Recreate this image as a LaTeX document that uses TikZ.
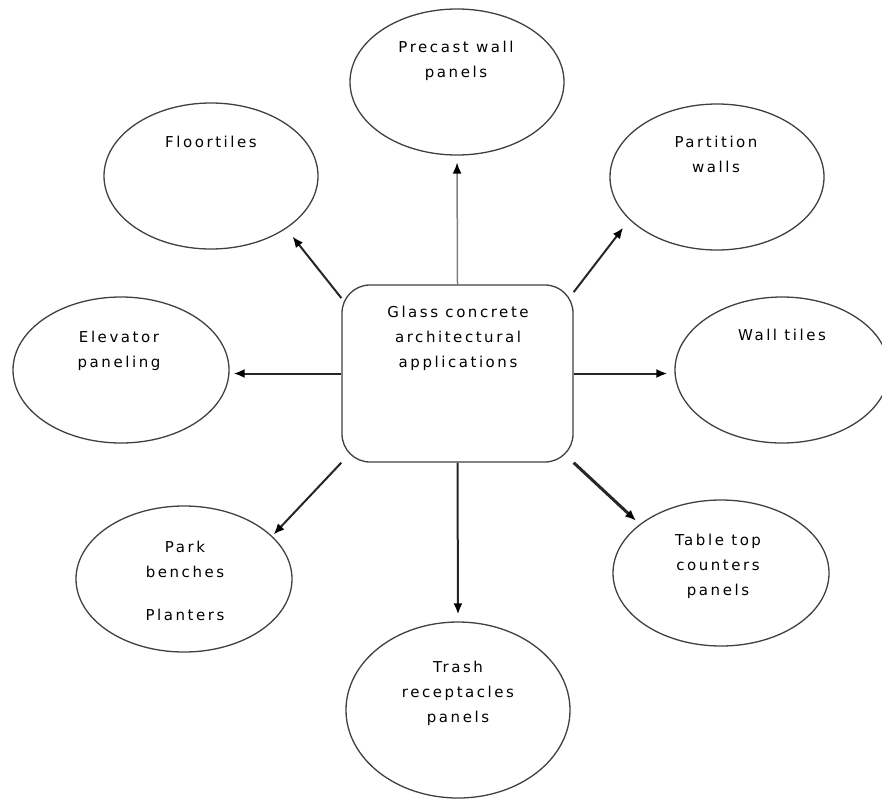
\documentclass[tikz,border=0pt]{standalone}
\usepackage{fontspec}
\setmainfont[LetterSpace=17]{DejaVu Sans}
\usetikzlibrary{shapes.geometric,arrows.meta,backgrounds}
\begin{document}
\begin{tikzpicture}[x=1pt,y=-1pt,
  bub/.style={ellipse,draw=black!75,line width=1.3pt,fill=white,inner sep=0pt,minimum width=214pt,minimum height=146pt},
  lbl/.style={align=center,font=\fontsize{15}{25}\selectfont,inner sep=0pt},
  con/.style={draw=black!85,line width=2pt,-{Latex[length=11pt,width=9pt,color=black]}}]
\useasboundingbox (0,0) rectangle (882,801);
% central box
\node[draw=black!75,line width=1.3pt,fill=white,rounded corners=28pt,minimum width=231pt,minimum height=177pt,inner sep=0pt] (box) at (457.5,373.5) {};
\node[lbl] (tbox) at (458,338) {Glass concrete\\architectural\\applications};
% bubbles
\node[bub] (pre) at (457,82) {};
\node[lbl] (tpre) at (456,61) {Precast wall\\panels};
\node[bub] (floor) at (211,176) {};
\node[lbl] (tfloor) at (211,142) {Floortiles};
\node[bub] (part) at (717,177) {};
\node[lbl] (tpart) at (716,154.5) {Partition\\walls};
\node[bub,minimum width=216pt] (elev) at (121,370) {};
\node[lbl] (telev) at (119,350.5) {Elevator\\paneling};
\node[bub] (wall) at (782,370) {};
\node[lbl] (twall) at (782,335) {Wall tiles};
\node[bub,minimum width=216pt] (park) at (184,579) {};
\node[lbl] (tpark) at (185,581) {Park\\benches\\[18pt]Planters};
\node[bub,minimum width=216pt] (table) at (721,573) {};
\node[lbl] (ttable) at (718,566) {Table top\\counters\\panels};
\node[bub,minimum width=224pt,minimum height=176pt] (trash) at (458,710) {};
\node[lbl] (ttrash) at (458,693) {Trash\\receptacles\\panels};
% connectors
\begin{scope}[on background layer]
\draw[con,draw=black!50,line width=1.5pt,shorten >=7pt] (box.north) -- (pre.south);
\draw[con,shorten >=10pt] (box.147) -- (floor.-35.7);
\draw[con,shorten >=10pt] (box.35) -- (part.206.3);
\draw[con,shorten >=4pt] (box.west) -- (elev.east |- box.west);
\draw[con,shorten >=7pt] (box.east) -- (wall.west |- box.east);
\draw[con,shorten >=2pt] (box.south west) -- (park.26.3);
\draw[con,line width=3pt,shorten >=5pt] (box.south east) -- (table.149.2);
\draw[con,shorten >=7pt] (box.south) -- (trash.north);
\end{scope}
\end{tikzpicture}
\end{document}
